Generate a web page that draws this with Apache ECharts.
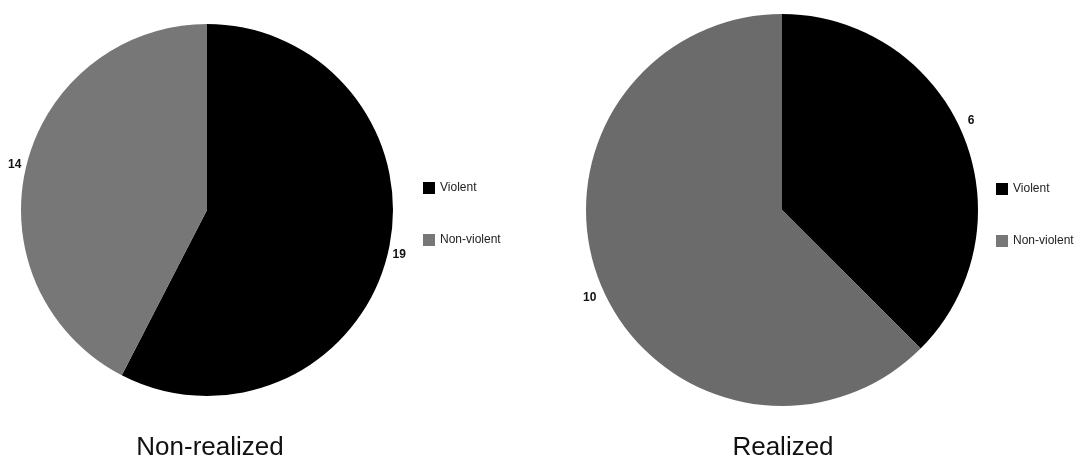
<!DOCTYPE html>
<html>
<head>
<meta charset="utf-8">
<script src="https://cdn.jsdelivr.net/npm/echarts@6/dist/echarts.min.js"></script>
<style>
  html, body { margin: 0; padding: 0; background: #fff; }
  #plot { width: 1081px; height: 464px; }
</style>
</head>
<body>
<div id="plot"></div>
<script>
var categories = ['Violent', 'Non-violent'];
var nonRealized = [19, 14];
var realized = [6, 10];
var titles = ['Non-realized', 'Realized'];

var chart = echarts.init(document.getElementById('plot'));

function pieData(values, gray) {
  var colors = ['#000000', gray];
  return categories.map(function (name, i) {
    return { name: name, value: values[i], itemStyle: { color: colors[i] } };
  });
}

var labelStyle = {
  show: true,
  position: 'outside',
  formatter: '{c}',
  fontFamily: 'Liberation Sans',
  fontWeight: 'bold',
  fontSize: 12,
  color: '#111',
  overflow: 'none',
  distanceToLabelLine: 0
};

var legendText = { fontFamily: 'Liberation Sans', fontSize: 12, color: '#222' };

var option = {
  animation: false,
  textStyle: { fontFamily: 'Liberation Sans' },
  title: [
    { text: titles[0], left: 210, top: 435, textAlign: 'center', padding: 0,
      textStyle: { fontSize: 26, fontWeight: 'normal', color: '#111' } },
    { text: titles[1], left: 783, top: 435, textAlign: 'center', padding: 0,
      textStyle: { fontSize: 26, fontWeight: 'normal', color: '#111' } }
  ],
  legend: [
    { data: categories, orient: 'vertical', left: 423, top: 182, padding: 0,
      itemWidth: 12, itemHeight: 12, itemGap: 40, icon: 'rect', textStyle: legendText },
    { data: categories, orient: 'vertical', left: 996, top: 183, padding: 0,
      itemWidth: 12, itemHeight: 12, itemGap: 40, icon: 'rect', textStyle: legendText }
  ],
  series: [
    {
      name: titles[0],
      type: 'pie',
      center: [207, 210],
      radius: 186,
      startAngle: 90,
      clockwise: true,
      data: pieData(nonRealized, '#777777'),
      label: labelStyle,
      labelLine: { show: false, length: 5, length2: 0 },
      emphasis: { disabled: true }
    },
    {
      name: titles[1],
      type: 'pie',
      center: [782, 210],
      radius: 196,
      startAngle: 90,
      clockwise: true,
      data: pieData(realized, '#6b6b6b'),
      label: labelStyle,
      labelLine: { show: false, length: 5, length2: 0 },
      labelLayout: function (params) {
        return { dy: params.dataIndex === 0 ? -12 : 11 };
      },
      emphasis: { disabled: true }
    }
  ]
};

chart.setOption(option);
</script>
</body>
</html>
